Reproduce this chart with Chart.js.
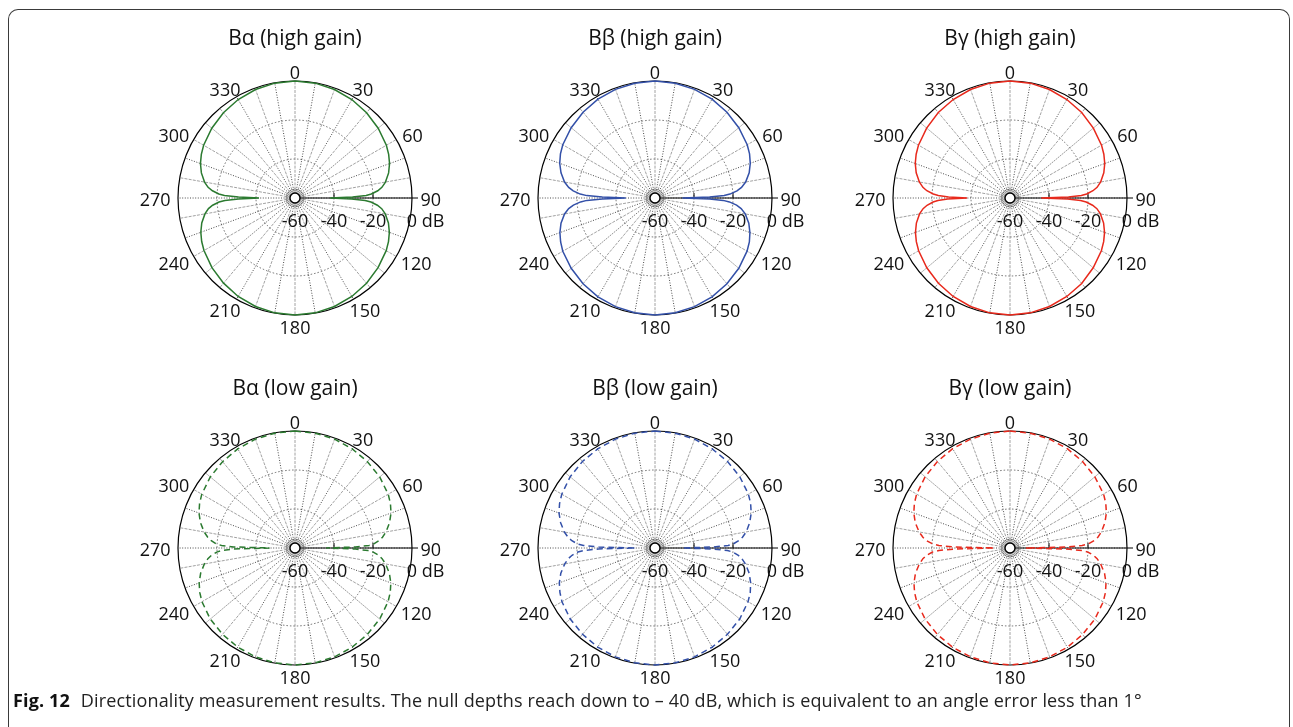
<!DOCTYPE html>
<html>
<head>
<meta charset="utf-8">
<script src="https://cdn.jsdelivr.net/npm/chart.js@4.4.1/dist/chart.umd.min.js"></script>
<style>
  body { margin: 0; background: #fff; width: 1293px; height: 727px; overflow: hidden; position: relative; font-family: "Open Sans", sans-serif; }
  #frame { position: absolute; left: 8px; top: 9px; width: 1280px; height: 740px; border: 1.5px solid #3a3a3a; border-bottom: none; border-radius: 10px 10px 0 0; }
  .plot { position: absolute; }
  #caption { position: absolute; left: 13px; top: 687px; font-size: 18px; line-height: 26px; color: #222; white-space: nowrap; letter-spacing: 0.15px; }
  #caption b { color: #111; margin-right: 6px; }
</style>
</head>
<body>
<div id="frame"></div>
<canvas class="plot" id="c0" width="360" height="325"></canvas>
<canvas class="plot" id="c1" width="360" height="325"></canvas>
<canvas class="plot" id="c2" width="360" height="325"></canvas>
<canvas class="plot" id="c3" width="360" height="325"></canvas>
<canvas class="plot" id="c4" width="360" height="325"></canvas>
<canvas class="plot" id="c5" width="360" height="325"></canvas>
<div id="caption"><b>Fig. 12</b> Directionality measurement results. The null depths reach down to &#8211; 40 dB, which is equivalent to an angle error less than 1°</div>
<script>
const angles = [
  0, 10, 20, 30, 40, 50, 60, 65, 70, 75, 80, 83, 85, 87, 88, 89, 90,
  91, 92, 93, 95, 97, 100, 105, 110, 115, 120, 130, 140, 150, 160, 170, 180,
  190, 200, 210, 220, 230, 240, 245, 250, 255, 260, 263, 265, 267, 268, 269, 270,
  271, 272, 273, 275, 277, 280, 285, 290, 295, 300, 310, 320, 330, 340, 350
];

// gain in dB
const alphaHigh = [
  0, -0.2, -0.8, -1.7, -2.9, -4.3, -5.9, -7.0, -8.4, -10.3, -12.9, -15.1, -17.4, -20.8, -23.5, -30.5, -42,
  -31, -24, -21, -17.6, -15.2, -13.0, -10.4, -8.5, -7.1, -6.0, -4.4, -2.9, -1.7, -0.8, -0.2, 0,
  -0.2, -0.8, -1.7, -3.0, -4.4, -6.1, -7.2, -8.6, -10.5, -13.1, -15.3, -17.6, -21, -24, -31, -41.5,
  -31, -23.8, -20.9, -17.5, -15.1, -12.9, -10.3, -8.4, -7.0, -5.9, -4.3, -2.9, -1.7, -0.8, -0.2
];
const betaHigh = [
  0, -0.2, -0.7, -1.5, -2.6, -3.9, -5.4, -6.5, -8.0, -10.0, -12.8, -15.3, -17.8, -21.5, -24.5, -32, -46,
  -32, -25, -21.8, -18, -15.5, -13.0, -10.2, -8.2, -6.6, -5.5, -3.9, -2.6, -1.5, -0.7, -0.2, 0,
  -0.2, -0.7, -1.5, -2.6, -3.9, -5.4, -6.6, -8.1, -10.1, -12.9, -15.4, -18, -21.8, -25, -33, -45,
  -33, -25, -21.6, -17.9, -15.4, -12.9, -10.1, -8.0, -6.5, -5.4, -3.9, -2.6, -1.5, -0.7, -0.2
];
const gammaHigh = [
  0, -0.2, -0.8, -1.7, -2.8, -4.2, -5.8, -6.9, -8.3, -10.2, -12.8, -15.0, -17.3, -20.6, -23.4, -30, -44,
  -30.5, -23.8, -20.9, -17.5, -15.1, -12.9, -10.3, -8.4, -7.0, -5.9, -4.3, -2.8, -1.7, -0.8, -0.2, 0,
  -0.2, -0.8, -1.7, -2.9, -4.3, -5.9, -7.0, -8.4, -10.3, -12.9, -15.1, -17.3, -20.5, -23, -28, -38,
  -28.5, -23.2, -20.6, -17.2, -15.0, -12.8, -10.2, -8.3, -6.9, -5.8, -4.2, -2.8, -1.7, -0.8, -0.2
];
const alphaLow = [
  0, -0.2, -0.6, -1.3, -2.2, -3.3, -4.8, -6.0, -7.6, -9.8, -12.6, -14.8, -16.8, -19.5, -22, -29, -44,
  -29, -22.5, -19.8, -17, -15, -12.8, -9.9, -7.7, -6.1, -4.9, -3.3, -2.2, -1.3, -0.6, -0.2, 0,
  -0.2, -0.6, -1.3, -2.2, -3.3, -4.9, -6.1, -7.7, -9.9, -12.8, -15, -17, -19.8, -22.5, -28, -47,
  -28.5, -22.3, -19.6, -16.9, -14.9, -12.7, -9.8, -7.6, -6.0, -4.8, -3.3, -2.2, -1.3, -0.6, -0.2
];
const betaLow = [
  0, -0.2, -0.6, -1.3, -2.1, -3.2, -4.7, -5.9, -7.5, -9.7, -12.5, -14.8, -16.9, -19.8, -22.5, -30, -46,
  -30, -22.8, -20, -17.1, -15.1, -12.9, -10.0, -7.8, -6.1, -4.9, -3.3, -2.2, -1.3, -0.6, -0.2, 0,
  -0.2, -0.6, -1.3, -2.2, -3.3, -4.9, -6.2, -7.8, -10.0, -13.0, -15.2, -17.3, -20.4, -23.5, -31, -50,
  -31, -23.3, -20.2, -17.2, -15.1, -12.8, -9.9, -7.6, -6.0, -4.8, -3.2, -2.1, -1.3, -0.6, -0.2
];
const gammaLow = [
  0, -0.2, -0.6, -1.2, -2.1, -3.2, -4.6, -5.8, -7.4, -9.6, -12.4, -14.6, -16.7, -19.8, -23, -31, -52,
  -31, -23, -20, -17, -15, -12.8, -9.8, -7.6, -6.0, -4.8, -3.2, -2.1, -1.2, -0.6, -0.2, 0,
  -0.2, -0.6, -1.2, -2.1, -3.2, -4.8, -6.0, -7.6, -9.8, -12.8, -15, -17.1, -20.2, -23.5, -32, -52,
  -32, -23.5, -20.3, -17.1, -15, -12.7, -9.7, -7.5, -5.9, -4.7, -3.2, -2.1, -1.2, -0.6, -0.2
];

const titles = [
  'B\u03b1 (high gain)', 'B\u03b2 (high gain)', 'B\u03b3 (high gain)',
  'B\u03b1 (low gain)', 'B\u03b2 (low gain)', 'B\u03b3 (low gain)'
];
const series = [alphaHigh, betaHigh, gammaHigh, alphaLow, betaLow, gammaLow];
const colors = ['#2b7a30', '#3350a8', '#e8291c', '#2b7a30', '#3350a8', '#e8291c'];

const angleTicks = [0, 30, 60, 90, 120, 150, 180, 210, 240, 270, 300, 330];
const dbTicks = [-60, -40, -20, 0];

// plot centres on the page
const centersX = [295, 655, 1010];
const centersY = [198, 548];

const FONT = '"Open Sans", sans-serif';

// one label per degree so the nulls can be placed exactly
const labels = [];
for (let a = 0; a < 360; a++) labels.push(String(a));

function toFull(values) {
  const out = new Array(360).fill(null);
  angles.forEach((a, i) => { out[a] = values[i]; });
  return out;
}

/**
 * Axis decoration (MATLAB-style polar plot)
 */
const polarDecor = {
  id: 'polarDecor',
  beforeDatasetsDraw(chart) {
    const s = chart.scales.r;
    const ctx = chart.ctx;
    const x0 = s.xCenter, y0 = s.yCenter, R = s.drawingArea;
    ctx.save();
    ctx.strokeStyle = '#000';
    ctx.lineWidth = 1;
    ctx.beginPath();
    ctx.moveTo(x0, y0);
    ctx.lineTo(x0 + R + 6, y0);
    dbTicks.slice(1, -1).forEach(v => {
      const d = s.getDistanceFromCenterForValue(v);
      ctx.moveTo(x0 + d, y0 - 5);
      ctx.lineTo(x0 + d, y0);
    });
    ctx.stroke();
    ctx.restore();
  },
  afterDatasetsDraw(chart) {
    const s = chart.scales.r;
    const ctx = chart.ctx;
    const x0 = s.xCenter, y0 = s.yCenter, R = s.drawingArea;
    ctx.save();

    // centre rings
    ctx.lineWidth = 0.6;
    ctx.strokeStyle = '#555';
    [9, 7.5].forEach(rr => {
      ctx.beginPath();
      ctx.arc(x0, y0, rr, 0, Math.PI * 2);
      ctx.stroke();
    });
    ctx.beginPath();
    ctx.arc(x0, y0, 5, 0, Math.PI * 2);
    ctx.fillStyle = '#fff';
    ctx.fill();
    ctx.lineWidth = 1.4;
    ctx.strokeStyle = '#000';
    ctx.stroke();

    ctx.fillStyle = '#111';
    ctx.font = '18px ' + FONT;
    ctx.textBaseline = 'middle';

    // radial tick labels
    dbTicks.forEach(v => {
      const d = s.getDistanceFromCenterForValue(v);
      if (v === 0) {
        ctx.textAlign = 'left';
        ctx.fillText('0 dB', x0 + d - ctx.measureText('0').width / 2, y0 + 24);
      } else {
        ctx.textAlign = 'center';
        ctx.fillText(String(v), x0 + d, y0 + 24);
      }
    });

    // angle labels
    ctx.textAlign = 'center';
    angleTicks.forEach(a => {
      const p = s.getPointPosition(a, R * 1.09);
      const txt = String(a);
      const w = ctx.measureText(txt).width;
      const sn = Math.sin(a * Math.PI / 180);
      ctx.fillText(txt, p.x + sn * w * 0.4, p.y + 3);
    });
    ctx.restore();
  }
};

series.forEach((values, k) => {
  const canvas = document.getElementById('c' + k);
  const cx = centersX[k % 3];
  const cy = centersY[Math.floor(k / 3)];
  canvas.style.left = (cx - 180) + 'px';
  canvas.style.top = (cy - 175) + 'px';

  new Chart(canvas, {
    type: 'radar',
    data: {
      labels: labels,
      datasets: [{
        data: toFull(values),
        borderColor: colors[k],
        borderWidth: 1.5,
        borderDash: k >= 3 ? [6, 4] : [],
        backgroundColor: 'transparent',
        fill: false,
        spanGaps: true,
        tension: 0,
        pointRadius: 0,
        pointHoverRadius: 0
      }]
    },
    options: {
      responsive: false,
      animation: false,
      layout: { padding: { left: 63, right: 63, top: 0, bottom: 33 } },
      plugins: {
        legend: { display: false },
        tooltip: { enabled: false },
        title: {
          display: true,
          text: titles[k],
          color: '#111',
          font: { family: FONT, size: 21, weight: 'normal' },
          padding: { top: 3, bottom: 29.8 }
        }
      },
      scales: {
        r: {
          min: -60,
          max: 0,
          startAngle: 0,
          ticks: { display: false, stepSize: 20 },
          pointLabels: { display: false },
          grid: {
            circular: true,
            color: c => (c.tick && c.tick.value === 0) ? '#000' : '#4a4a4a',
            lineWidth: c => (c.tick && c.tick.value === 0) ? 1.2 : 0.8
          },
          border: {
            dash: c => (c.tick && c.tick.value === 0) ? [] : [1.5, 2]
          },
          angleLines: {
            color: c => (c.index % 20 === 0) ? '#8a8a8a' : '#1e1e1e',
            lineWidth: c => (c.index % 10 === 0) ? 0.8 : 0,
            borderDash: c => (c.index % 20 === 0) ? [3, 1.2] : [1, 1.6]
          }
        }
      }
    },
    plugins: [polarDecor]
  });
});
</script>
</body>
</html>
